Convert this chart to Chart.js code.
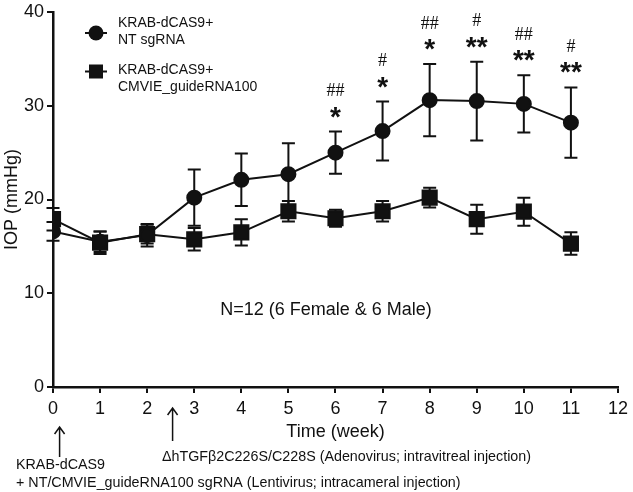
<!DOCTYPE html>
<html>
<head>
<meta charset="utf-8">
<script src="https://cdn.jsdelivr.net/npm/chart.js@4/dist/chart.umd.min.js"></script>
<style>
  html, body { margin: 0; padding: 0; background: #fff; }
  canvas { display: block; }
</style>
</head>
<body>
<canvas id="c" width="633" height="492" style="width:633px;height:492px"></canvas>
<script>
// ---- data ----
const weeks = [0, 1, 2, 3, 4, 5, 6, 7, 8, 9, 10, 11];
const ntMean = [16.6, 15.5, 16.2, 20.2, 22.1, 22.7, 25.0, 27.3, 30.6, 30.5, 30.2, 28.2];
const ntErr  = [1.0, 1.1, 1.2, 3.0, 2.8, 3.3, 2.25, 3.15, 3.85, 4.2, 3.05, 3.75];
const gMean  = [17.9, 15.4, 16.3, 15.75, 16.5, 18.75, 18.0, 18.75, 20.2, 17.9, 18.7, 15.3];
const gErr   = [1.2, 1.2, 1.0, 1.2, 1.4, 1.1, 0.9, 1.1, 1.05, 1.55, 1.5, 1.2];
const sigStar = ['', '', '', '', '', '', '*', '*', '*', '**', '**', '**'];
const sigHash = ['', '', '', '', '', '', '##', '#', '##', '#', '##', '#'];
const seriesNames = [['KRAB-dCAS9+', 'NT sgRNA'], ['KRAB-dCAS9+', 'CMVIE_guideRNA100']];
const yTicks = [0, 10, 20, 30, 40];
const xTicks = [0, 1, 2, 3, 4, 5, 6, 7, 8, 9, 10, 11, 12];
const arrowWeeks = [0.14, 2.54];
const noteText = 'N=12 (6 Female & 6 Male)';
const injectionNotes = [
  'ΔhTGFβ2C226S/C228S (Adenovirus; intravitreal injection)',
  'KRAB-dCAS9',
  '+ NT/CMVIE_guideRNA100 sgRNA (Lentivirus; intracameral injection)'
];

const FONT = '"Liberation Sans", Arial, sans-serif';
const INK = '#111';

const ntData = weeks.map((w, i) => ({ x: w, y: ntMean[i] }));
const gData = weeks.map((w, i) => ({ x: w, y: gMean[i] }));
const errs = [ntErr, gErr];

const errorBars = {
  id: 'errorBars',
  beforeDatasetsDraw(chart) {
    const { ctx, scales: { x, y } } = chart;
    ctx.save();
    ctx.strokeStyle = INK;
    ctx.lineWidth = 2;
    chart.data.datasets.forEach((ds, di) => {
      ds.data.forEach((p, i) => {
        const e = errs[di][i];
        const px = x.getPixelForValue(p.x);
        const top = y.getPixelForValue(p.y + e);
        const bot = y.getPixelForValue(p.y - e);
        ctx.beginPath();
        ctx.moveTo(px, top); ctx.lineTo(px, bot);
        ctx.moveTo(px - 6.5, top); ctx.lineTo(px + 6.5, top);
        ctx.moveTo(px - 6.5, bot); ctx.lineTo(px + 6.5, bot);
        ctx.stroke();
      });
    });
    ctx.restore();
  }
};

const annotations = {
  id: 'annotations',
  afterDraw(chart) {
    const { ctx, scales: { x, y } } = chart;
    ctx.save();
    ctx.fillStyle = INK;
    ctx.textAlign = 'center';
    // significance marks above NT error bars
    weeks.forEach((w, i) => {
      const px = x.getPixelForValue(w);
      const top = y.getPixelForValue(ntMean[i] + ntErr[i]);
      if (sigStar[i]) {
        ctx.font = 'bold 28px ' + FONT;
        ctx.textBaseline = 'alphabetic';
        ctx.fillText(sigStar[i], px, top - 6);
      }
      if (sigHash[i]) {
        ctx.font = '18px "Liberation Serif", "Times New Roman", serif';
        ctx.textBaseline = 'middle';
        ctx.fillText(sigHash[i], px, top - 40);
      }
    });
    // N note
    ctx.font = '18px ' + FONT;
    ctx.textBaseline = 'middle';
    ctx.fillText(noteText, 326, 310);

    // legend
    const lx = 96;
    ctx.strokeStyle = INK;
    ctx.lineWidth = 2;
    const legendRows = [
      { my: 33, ty: [23, 40.5], shape: 'circle' },
      { my: 71.5, ty: [70, 87.5], shape: 'rect' }
    ];
    legendRows.forEach((r, k) => {
      ctx.beginPath();
      ctx.moveTo(lx - 11, r.my); ctx.lineTo(lx + 11, r.my);
      ctx.stroke();
      ctx.beginPath();
      if (r.shape === 'circle') {
        ctx.arc(lx, r.my, 7.5, 0, Math.PI * 2);
        ctx.fill();
      } else {
        ctx.fillRect(lx - 7, r.my - 7, 14, 14);
      }
      ctx.font = '14px ' + FONT;
      ctx.textAlign = 'left';
      ctx.textBaseline = 'middle';
      seriesNames[k].forEach((t, j) => ctx.fillText(t, 118, r.ty[j]));
    });

    // injection arrows
    ctx.lineWidth = 1.5;
    const arrowSpans = [[427, 457], [408, 441]];
    arrowWeeks.forEach((w, k) => {
      const ax = x.getPixelForValue(w);
      const [t, b] = arrowSpans[k];
      ctx.beginPath();
      ctx.moveTo(ax, b); ctx.lineTo(ax, t);
      ctx.moveTo(ax - 5, t + 7); ctx.lineTo(ax, t); ctx.lineTo(ax + 5, t + 7);
      ctx.stroke();
    });
    ctx.font = '14.3px ' + FONT;
    ctx.textAlign = 'left';
    ctx.textBaseline = 'middle';
    ctx.fillText(injectionNotes[0], 162, 457.5);
    ctx.fillText(injectionNotes[1], 16, 465);
    ctx.fillText(injectionNotes[2], 16, 483);
    ctx.restore();
  }
};

new Chart(document.getElementById('c'), {
  type: 'line',
  data: {
    datasets: [
      {
        label: seriesNames[0].join(' '),
        data: ntData,
        borderColor: INK,
        backgroundColor: INK,
        borderWidth: 2,
        pointStyle: 'circle',
        pointRadius: 7,
        pointHoverRadius: 7,
        tension: 0
      },
      {
        label: seriesNames[1].join(' '),
        data: gData,
        borderColor: INK,
        backgroundColor: INK,
        borderWidth: 2,
        pointStyle: 'rect',
        pointRadius: 10,
        pointHoverRadius: 10,
        tension: 0
      }
    ]
  },
  options: {
    responsive: false,
    animation: false,
    devicePixelRatio: 1,
    layout: { padding: { top: 10, right: 12, left: 0, bottom: 49 } },
    plugins: { legend: { display: false }, tooltip: { enabled: false } },
    scales: {
      x: {
        type: 'linear',
        min: 0, max: 12,
        afterBuildTicks: s => { s.ticks = xTicks.map(v => ({ value: v })); },
        afterFit: s => { s.height = 56; },
        ticks: { font: { size: 18, family: FONT }, color: INK, padding: 5, maxRotation: 0 },
        grid: { display: true, drawOnChartArea: false, drawTicks: true, tickLength: 6, color: INK, lineWidth: 2 },
        border: { display: true, color: INK, width: 2.5 },
        title: { display: true, text: 'Time (week)', font: { size: 18, family: FONT }, color: INK, padding: 0 }
      },
      y: {
        min: 0, max: 40,
        afterBuildTicks: s => { s.ticks = yTicks.map(v => ({ value: v })); },
        afterFit: s => { s.width = 53; },
        ticks: { font: { size: 18, family: FONT, lineHeight: 1 }, color: INK, padding: 3 },
        grid: { display: true, drawOnChartArea: false, drawTicks: true, tickLength: 6, color: INK, lineWidth: 2 },
        border: { display: true, color: INK, width: 2.5 },
        title: { display: true, text: 'IOP (mmHg)', font: { size: 18, family: FONT }, color: INK, padding: { top: 1, bottom: 0 } }
      }
    }
  },
  plugins: [errorBars, annotations]
});
</script>
</body>
</html>
